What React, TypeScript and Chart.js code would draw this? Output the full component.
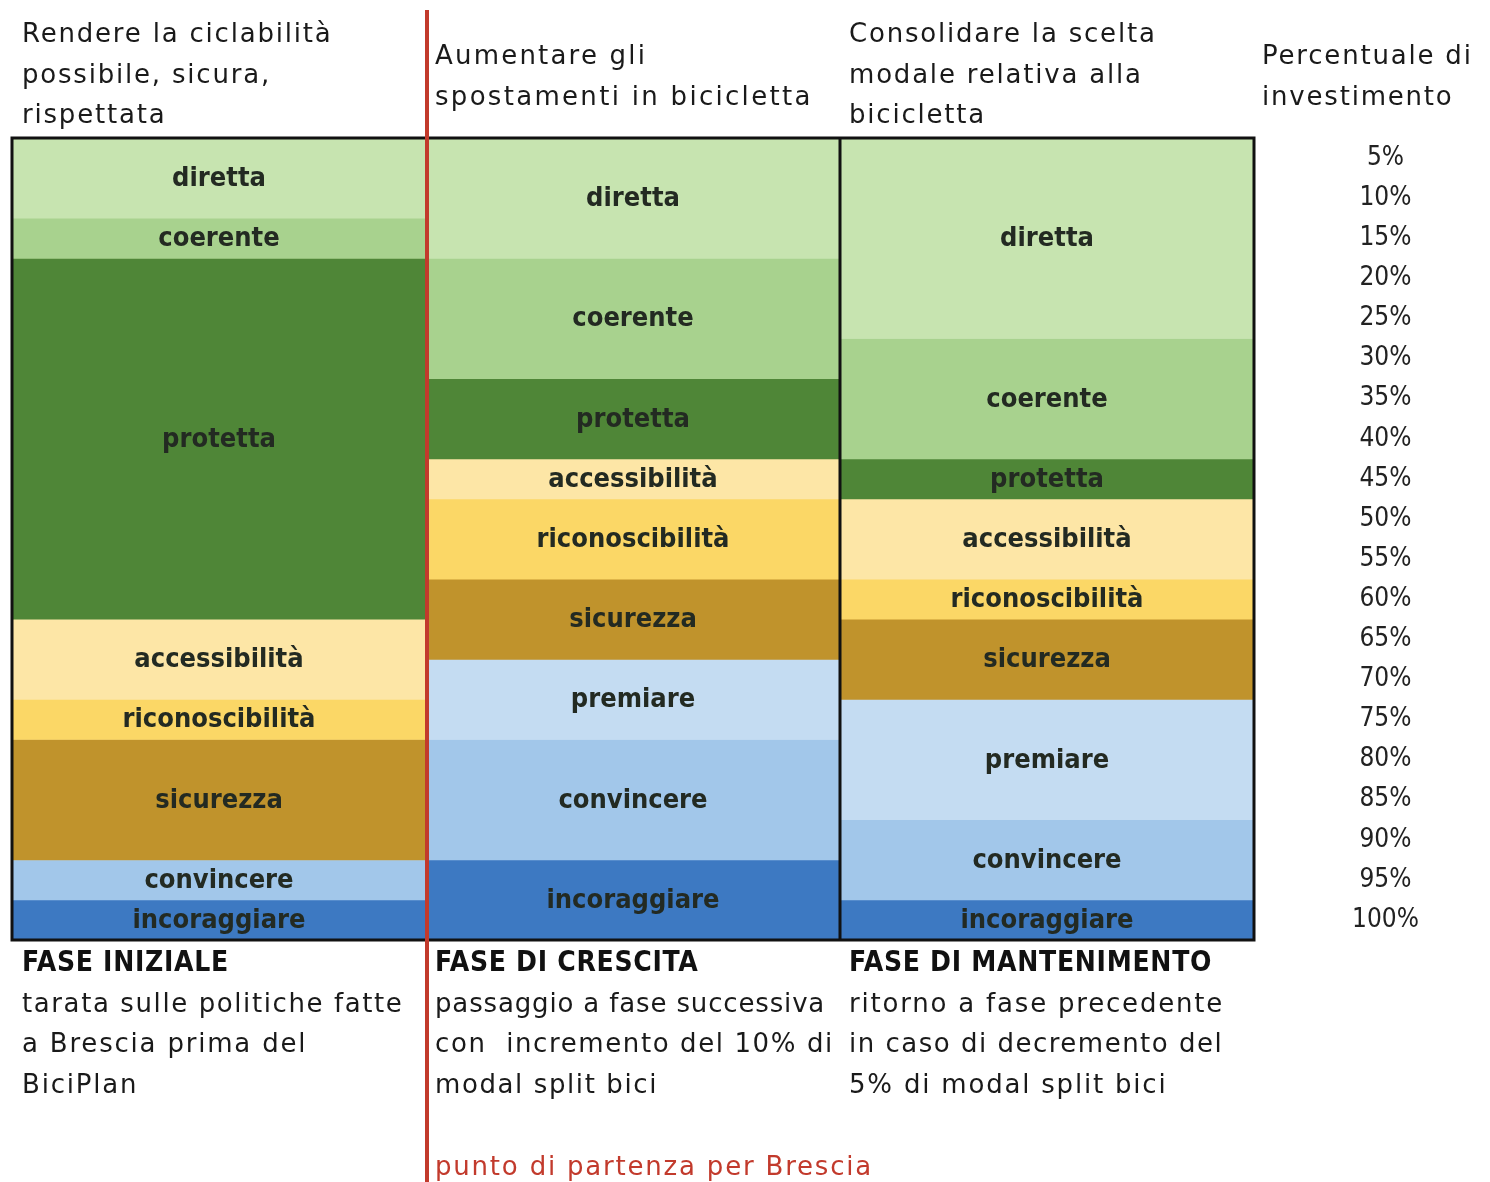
import React, { useEffect, useRef } from 'react';
import { Chart, registerables } from 'chart.js';

Chart.register(...registerables);

// ---- data ----
const phases = ['FASE INIZIALE', 'FASE DI CRESCITA', 'FASE DI MANTENIMENTO'];
const categories = [
  'diretta',
  'coerente',
  'protetta',
  'accessibilità',
  'riconoscibilità',
  'sicurezza',
  'premiare',
  'convincere',
  'incoraggiare',
];
// percentage of investment per category, per phase (sums to 100)
const faseIniziale = [10, 5, 45, 10, 5, 15, 0, 5, 5];
const faseCrescita = [15, 15, 10, 5, 10, 10, 10, 15, 10];
const faseMantenimento = [25, 15, 5, 10, 5, 10, 15, 10, 5];
const percentLabels = [
  '5%', '10%', '15%', '20%', '25%', '30%', '35%', '40%', '45%', '50%',
  '55%', '60%', '65%', '70%', '75%', '80%', '85%', '90%', '95%', '100%',
];
const headerIniziale = ['Rendere la ciclabilità', 'possibile, sicura,', 'rispettata'];
const headerCrescita = ['Aumentare gli', 'spostamenti in bicicletta'];
const headerMantenimento = ['Consolidare la scelta', 'modale relativa alla', 'bicicletta'];
const headerPercent = ['Percentuale di', 'investimento'];
const noteIniziale = ['tarata sulle politiche fatte', 'a Brescia prima del', 'BiciPlan'];
const noteCrescita = ['passaggio a fase successiva', 'con  incremento del 10% di', 'modal split bici'];
const noteMantenimento = ['ritorno a fase precedente', 'in caso di decremento del', '5% di modal split bici'];
const startNote = 'punto di partenza per Brescia';

// ---- style ----
const segmentColors = [
  '#c7e4b0',
  '#a8d28e',
  '#4f8637',
  '#fde6a6',
  '#fbd766',
  '#c0932c',
  '#c4dcf2',
  '#a2c7ea',
  '#3d79c2',
];
const FONT_C = '"DejaVu Sans Condensed", "DejaVu Sans", sans-serif';
const FONT = '"DejaVu Sans", sans-serif';
const RED = '#c23a2c';

function TextBlock(props: {
  left: number;
  top: number;
  lines: string[];
  title?: string;
  color?: string;
  spacing?: number[];
}) {
  return (
    <div
      style={{
        position: 'absolute',
        left: props.left,
        top: props.top,
        fontFamily: FONT,
        fontSize: 26,
        letterSpacing: '1.8px',
        lineHeight: '40.5px',
        color: props.color || '#1a1a1a',
        whiteSpace: 'pre',
        pointerEvents: 'none',
      }}
    >
      {props.title ? (
        <div style={{ fontFamily: FONT_C, fontSize: 28, fontWeight: 'bold', letterSpacing: '0.7px', color: '#111' }}>
          {props.title}
        </div>
      ) : null}
      {props.lines.map((l, i) => (
        <div key={i} style={props.spacing && props.spacing[i] != null ? { letterSpacing: props.spacing[i] + 'px' } : undefined}>
          {l}
        </div>
      ))}
    </div>
  );
}

export default function App() {
  const ref = useRef<HTMLCanvasElement>(null);

  useEffect(() => {
    const series = [faseIniziale, faseCrescita, faseMantenimento];

    const segmentLabels = {
      id: 'segmentLabels',
      afterDatasetsDraw(chart: any) {
        const ctx = chart.ctx;
        ctx.save();
        ctx.font = `bold 27px ${FONT_C}`;
        ctx.fillStyle = '#232a22';
        ctx.textAlign = 'center';
        ctx.textBaseline = 'middle';
        chart.data.datasets.forEach((ds: any, di: number) => {
          const meta = chart.getDatasetMeta(di);
          meta.data.forEach((el: any, i: number) => {
            if (!ds.data[i]) return;
            const p = el.getProps(['x', 'y', 'base'], true);
            ctx.fillText(ds.label, p.x, (p.y + p.base) / 2 + 1);
          });
        });
        ctx.restore();
      },
    };

    const frame = {
      id: 'frame',
      afterDraw(chart: any) {
        const ctx = chart.ctx;
        const a = chart.chartArea;
        const xs = chart.scales.x;
        const sep1 = (xs.getPixelForValue(0) + xs.getPixelForValue(1)) / 2;
        const sep2 = (xs.getPixelForValue(1) + xs.getPixelForValue(2)) / 2;
        ctx.save();
        ctx.strokeStyle = '#111';
        ctx.lineWidth = 3;
        ctx.strokeRect(a.left, a.top, a.right - a.left, a.bottom - a.top);
        ctx.beginPath();
        ctx.moveTo(sep2, a.top);
        ctx.lineTo(sep2, a.bottom);
        ctx.stroke();
        ctx.strokeStyle = RED;
        ctx.lineWidth = 4;
        ctx.beginPath();
        ctx.moveTo(sep1 + 1, 10);
        ctx.lineTo(sep1 + 1, chart.height);
        ctx.stroke();
        ctx.restore();
      },
    };

    const chart = new Chart(ref.current as HTMLCanvasElement, {
      type: 'bar',
      data: {
        labels: phases,
        datasets: categories.map((c, i) => ({
          label: c,
          data: series.map((s) => s[i]),
          backgroundColor: segmentColors[i],
          borderWidth: 0,
          categoryPercentage: 1,
          barPercentage: 1,
          yAxisID: 'y',
        })),
      },
      options: {
        responsive: false,
        animation: false,
        devicePixelRatio: 1,
        layout: { padding: { left: 12, top: 138, right: 0, bottom: 242 } },
        plugins: { legend: { display: false }, tooltip: { enabled: false } },
        scales: {
          x: { stacked: true, display: false, offset: true },
          y: { stacked: true, display: false, reverse: true, min: 0, max: 100 },
          y2: {
            type: 'category',
            labels: percentLabels,
            position: 'right',
            offset: true,
            grid: { display: false, drawTicks: false },
            border: { display: false },
            ticks: {
              font: { family: FONT_C, size: 26 },
              color: '#222',
              crossAlign: 'center',
              padding: 98,
              autoSkip: false,
            },
            afterFit: (s: any) => {
              s.width = 236;
            },
          },
        },
      } as any,
      plugins: [segmentLabels, frame],
    });
    return () => chart.destroy();
  }, []);

  return (
    <div style={{ position: 'fixed', left: 0, top: 0, width: 1490, height: 1182, background: '#fff', overflow: 'hidden' }}>
      <canvas ref={ref} width={1490} height={1182} style={{ position: 'absolute', left: 0, top: 0 }} />
      <TextBlock left={22} top={13} lines={headerIniziale} />
      <TextBlock left={435} top={35} lines={headerCrescita} spacing={[2.2, 2.3]} />
      <TextBlock left={849} top={13} lines={headerMantenimento} />
      <TextBlock left={1262} top={35} lines={headerPercent} />
      <TextBlock left={22} top={942} title={phases[0]} lines={noteIniziale} spacing={[1.6]} />
      <TextBlock left={435} top={942} title={phases[1]} lines={noteCrescita} spacing={[0.85, 1.6, 1.6]} />
      <TextBlock left={849} top={942} title={phases[2]} lines={noteMantenimento} spacing={[1.8, 1.5]} />
      <TextBlock left={435} top={1146} lines={[startNote]} color={RED} />
    </div>
  );
}
